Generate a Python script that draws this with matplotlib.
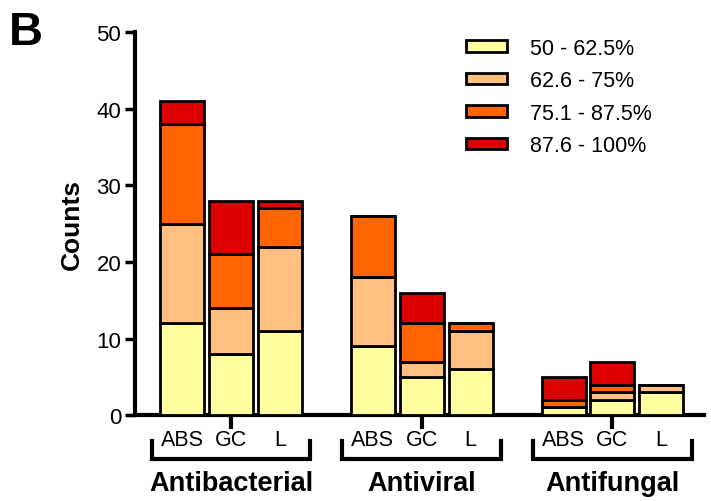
import matplotlib
matplotlib.use("Agg")
import matplotlib.pyplot as plt
import matplotlib.transforms as mtransforms
from matplotlib.patches import Patch
import numpy as np

plt.rcParams['font.family'] = ['Liberation Sans', 'DejaVu Sans']

groups = ["Antibacterial", "Antiviral", "Antifungal"]
subcats = ["ABS", "GC", "L"]
series_labels = ["50 - 62.5%", "62.6 - 75%", "75.1 - 87.5%", "87.6 - 100%"]
colors = ["#FFFFA0", "#FFBF80", "#FF6400", "#DC0000"]

# values per bar in order: Antibacterial ABS, GC, L, Antiviral ABS, GC, L, Antifungal ABS, GC, L
s50_625 = [12, 8, 11, 9, 5, 6, 1, 2, 3]
s626_75 = [13, 6, 11, 9, 2, 5, 0, 1, 1]
s751_875 = [13, 7, 5, 8, 5, 1, 1, 1, 0]
s876_100 = [3, 7, 1, 0, 4, 0, 3, 3, 0]
series = [s50_625, s626_75, s751_875, s876_100]

group_gap = 3.9
xpos = []
for g in range(len(groups)):
    for j in range(len(subcats)):
        xpos.append(g * group_gap + (j - 1))
xpos = np.array(xpos)
group_centers = [g * group_gap for g in range(len(groups))]

fig = plt.figure(figsize=(7.11, 5.02), dpi=100)
ax = fig.add_axes([0.19, 0.171, 0.80, 0.763])

bottom = np.zeros(len(xpos))
for vals, c in zip(series, colors):
    v = np.array(vals, dtype=float)
    ax.bar(xpos, v, width=0.9, bottom=bottom, color=c, edgecolor="black",
           linewidth=2, zorder=3)
    bottom += v

ax.set_xlim(-1.96, 9.67)
ax.set_ylim(0, 50)
ax.set_yticks([0, 10, 20, 30, 40, 50])
ax.tick_params(axis='y', labelsize=16, width=2.5, length=7, direction='out', pad=3)
ax.set_xticks(group_centers)
ax.set_xticklabels([])
ax.tick_params(axis='x', width=3, length=10, direction='out')
for s in ["top", "right"]:
    ax.spines[s].set_visible(False)
ax.spines["left"].set_linewidth(3)
ax.spines["bottom"].set_linewidth(3)
ax.set_ylabel("Counts", fontsize=19, fontweight='bold', labelpad=9)

trans = mtransforms.blended_transform_factory(ax.transData, ax.transAxes)
# subcategory labels
for i, x in enumerate(xpos):
    ax.text(x, -0.063, subcats[i % 3], transform=trans, ha='center', va='center',
            fontsize=15.5, clip_on=False)
# brackets and group labels
ybr_top = -0.068
ybr_bot = -0.115
for gc, name in zip(group_centers, groups):
    ax.plot([gc - 1.62, gc - 1.62, gc + 1.62, gc + 1.62],
            [ybr_top, ybr_bot, ybr_bot, ybr_top], transform=trans,
            color='black', linewidth=3, clip_on=False, solid_joinstyle='miter')
    ax.text(gc, -0.176, name, transform=trans, ha='center', va='center',
            fontsize=19.5, fontweight='bold', clip_on=False)

handles = [Patch(facecolor=c, edgecolor='black', linewidth=2) for c in colors]
leg = ax.legend(handles, series_labels, loc='upper left', bbox_to_anchor=(0.563, 1.014),
                frameon=False, fontsize=15.5, handlelength=1.92, handleheight=0.44,
                labelspacing=0.54, handletextpad=1.05, borderpad=0.0)

fig.text(0.012, 0.935, "B", fontsize=34, fontweight='bold', ha='left', va='center')

fig.savefig("out.png", dpi=100)
